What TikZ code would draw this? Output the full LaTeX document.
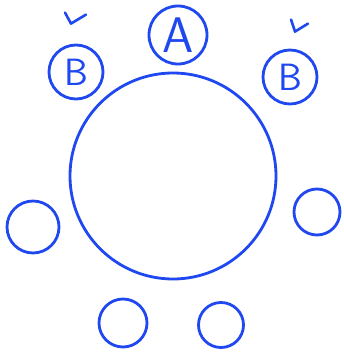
\documentclass[tikz,border=0pt]{standalone}
\usepackage{tikz}
\usetikzlibrary{positioning, calc}

\definecolor{penblue}{RGB}{32,72,240}

\begin{document}
\begin{tikzpicture}[
    x=1pt, y=-1pt,
    % Node Styles
    table/.style={circle, draw=penblue, line width=2.8pt, minimum size=206pt, inner sep=0pt},
    seat/.style={circle, draw=penblue, line width=2.8pt, minimum size=#1, inner sep=0pt, text=penblue, font=\sffamily},
    seat/.default=52pt,
    tickmark/.style={draw=penblue, line width=2.6pt, line cap=round, line join=round}
]
\useasboundingbox (0,0) rectangle (344,356);

% --- 1. Round table ---
\node[table] (tab) at (173,176) {};

% --- 2. Top seats ---
\node[seat=58pt, font=\sffamily\fontsize{50}{50}\selectfont] (sA) at (178,35) {A};
\node[seat=54pt, font=\sffamily\fontsize{38}{38}\selectfont] (sBl) at (76,72) {B};
\node[seat=54pt, font=\sffamily\fontsize{38}{38}\selectfont] (sBr) at (290,77) {B};

% --- 3. Empty seats ---
\node[seat=52pt] (sL) at (33,227) {};
\node[seat=46pt] (sR) at (317,212) {};
\node[seat=48pt] (sDl) at (123,323) {};
\node[seat=45pt] (sDr) at (221,325) {};

% --- 4. Marks above B ---
\draw[tickmark] ($(sBl.north)+(-11,-31)$) -- ($(sBl.north)+(-5,-20)$) -- ($(sBl.north)+(10,-29)$);
\draw[tickmark] ($(sBr.north)+(1,-29)$) -- ($(sBr.north)+(5,-17)$) -- ($(sBr.north)+(18,-25)$);

\end{tikzpicture}
\end{document}
